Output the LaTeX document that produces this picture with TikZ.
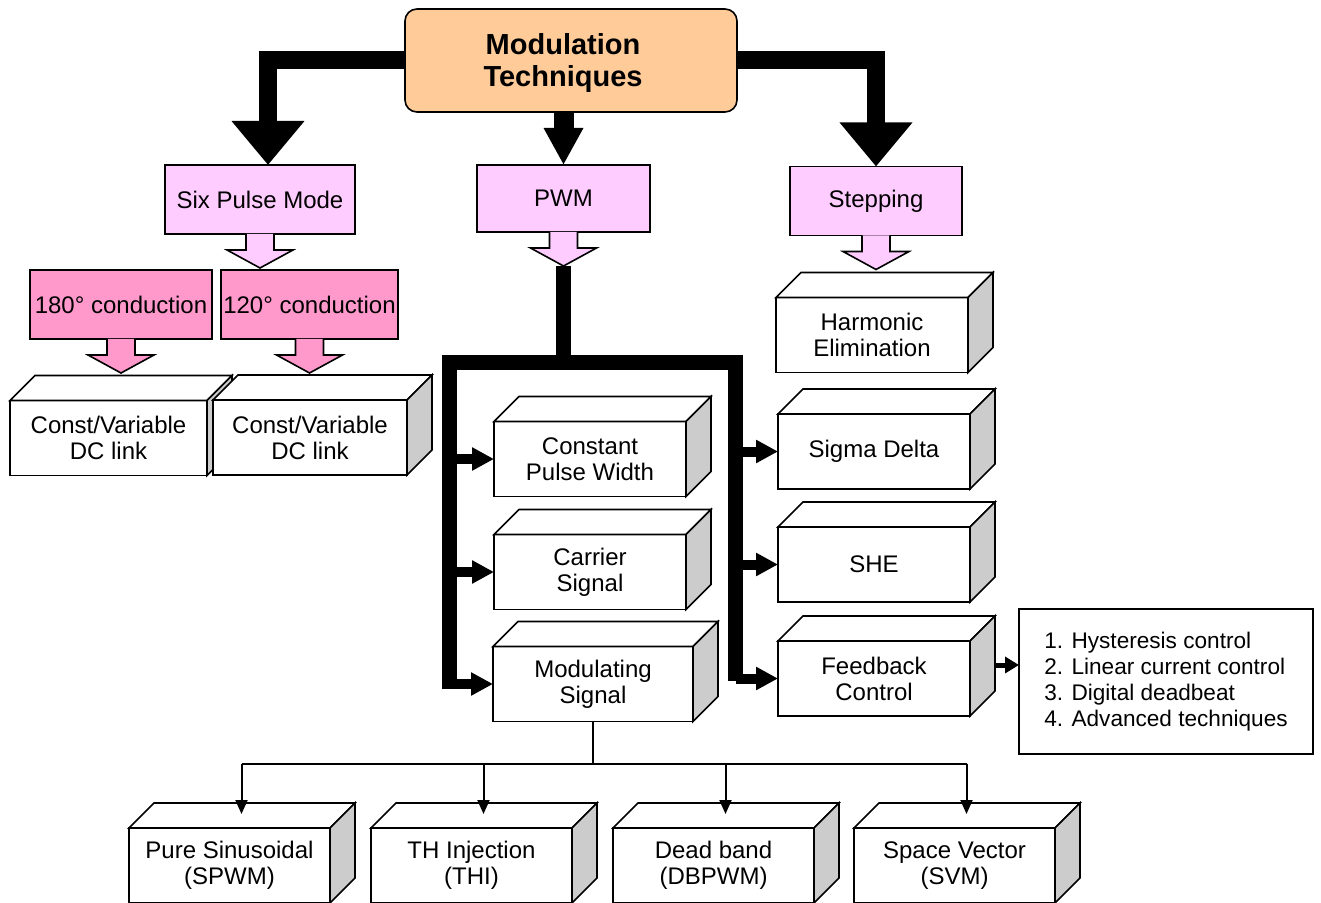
\documentclass[tikz,border=0pt]{standalone}
\usepackage{fontspec}
\setmainfont{Liberation Sans}
\usetikzlibrary{arrows.meta,calc}

\definecolor{peach}{HTML}{FFCC99}
\definecolor{lilac}{HTML}{FFCCFF}
\definecolor{rosy}{HTML}{FF99CC}
\definecolor{sidegrey}{HTML}{CCCCCC}

\tikzset{
  boxline/.style={draw=black, line width=0.8pt, outer sep=0pt},
  flatbox/.style={boxline, minimum height=34.5pt, inner sep=1pt, font=\fontsize{12}{13}\selectfont},
  cubefront/.style={boxline, fill=white, minimum height=37.5pt, inner sep=1pt, align=center, font=\fontsize{12}{13}\selectfont},
  bigarrow/.style={line width=9pt, -{Triangle[width=35pt,length=22pt]}},
  midarrow/.style={line width=10pt, -{Triangle[width=18.5pt,length=18.5pt]}},
  busline/.style={line width=7.5pt},
  branch/.style={line width=5pt, -{Triangle[width=11pt,length=11pt]}},
  treeline/.style={line width=1pt},
  treearrow/.style={treeline, -{Triangle[width=6pt,length=7pt]}},
  hollowarrow/.pic={\filldraw[boxline, pic actions] (-14,0) -- (-14,16) -- (-33,16) -- (0,34) -- (33,16) -- (14,16) -- (14,0);}
}

% front face, top face, grey side face
\newcommand{\cubenode}[4]{%
  \node[cubefront, minimum width=#3*0.5pt] (#1) at (#2) {#4};
  \filldraw[boxline, fill=white] (#1.north west) -- ++(25,-25) -- ($(#1.north east)+(25,-25)$) -- (#1.north east) -- cycle;
  \filldraw[boxline, fill=sidegrey] (#1.north east) -- ++(25,-25) -- ++(0,75) -- (#1.south east) -- cycle;
  \coordinate (#1-top) at ($(#1.north)+(12,-14)$);
}

\begin{document}
\begin{tikzpicture}[x=0.5pt,y=-0.5pt]
  \useasboundingbox (0,0) rectangle (1321,903);

  \node[boxline, fill=peach, rounded corners=6pt, minimum width=166pt, minimum height=51.5pt] (title) at (571,60.5) {};
  \node[align=center, font=\bfseries\fontsize{14.5}{16}\selectfont] (titletext) at (563,63) {Modulation\\Techniques};

  % first level
  \node[flatbox, fill=lilac, minimum width=95pt] (six) at (260,199.5) {Six Pulse Mode};
  \node[flatbox, fill=lilac, minimum width=86.5pt, minimum height=33.5pt] (pwm) at (563.5,198.5) {PWM};
  \node[flatbox, fill=lilac, minimum width=86pt] (step) at (876,201) {Stepping};

  \draw[bigarrow] (title.west) -| ([xshift=4pt]six.north);
  \draw[bigarrow] (title.east) -| (step.north);
  \draw[midarrow] (title.south -| pwm.north) -- (pwm.north);

  % six pulse mode
  \node[flatbox, fill=rosy, minimum width=91pt] (c180) at (121,304.5) {180° conduction};
  \node[flatbox, fill=rosy, minimum width=88.5pt] (c120) at (309.5,304.5) {120° conduction};
  \pic[fill=lilac] at (six.south) {hollowarrow};
  \pic[fill=rosy] at (c180.south) {hollowarrow};
  \pic[fill=rosy] at (c120.south) {hollowarrow};
  \cubenode{dc1}{108.5,438}{197}{Const/Variable\\DC link}
  \cubenode{dc2}{310,437.5}{194}{Const/Variable\\DC link}

  % stepping
  \pic[fill=lilac] at (step.south) {hollowarrow};
  \cubenode{harm}{872,335}{192}{Harmonic\\Elimination}

  % pwm
  \pic[fill=lilac] at (pwm.south) {hollowarrow};
  \coordinate (pwmtip) at ([yshift=-17pt]pwm.south);
  \cubenode{cpw}{590,459}{192}{Constant\\Pulse Width}
  \cubenode{carr}{590,572}{192}{Carrier\\Signal}
  \cubenode{modu}{593,684}{200}{Modulating\\Signal}
  \foreach \n/\y/\t in {sigma/451.5/{Sigma Delta},she/564.5/{SHE},feed/678.5/{Feedback\\Control}}{
    \cubenode{\n}{874,\y}{192}{\t}
  }

  \coordinate (busL) at (449.5,362.5);
  \coordinate (busR) at (735.5,362.5);
  \foreach \b in {cpw,carr,modu} \draw[branch] (\b.west -| busL) -- (\b.west);
  \foreach \b in {sigma,she,feed} \draw[branch] (\b.west -| busR) -- (\b.west);
  \draw[busline] (pwmtip) -- (pwmtip |- busL);
  \draw[busline] ([yshift=-2.5pt]modu.west -| busL) -- (busL) -- (busR) -- ([yshift=-1pt]feed.west -| busR);

  % feedback methods
  \node[boxline, fill=white, minimum width=147pt, minimum height=72.5pt, align=left,
        font=\fontsize{11.3}{13}\selectfont] (list) at (1166,681.5)
        {1. Hysteresis control\\2. Linear current control\\3. Digital deadbeat\\4. Advanced techniques};
  \coordinate (fbout) at (996,665);
  \draw[line width=2.5pt, -{Triangle[width=8pt,length=7pt]}] (fbout) -- (fbout -| list.west);

  % modulating signal types
  \foreach \n/\x/\t in {spwm/229.5/{Pure Sinusoidal\\(SPWM)},thi/471.5/{TH Injection\\(THI)},
                        dbpwm/713.5/{Dead band\\(DBPWM)},svm/954.5/{Space Vector\\(SVM)}}{
    \cubenode{\n}{\x,865.5}{201}{\t}
  }
  \draw[treeline] (modu.south) -- ++(0,42) coordinate (split);
  \draw[treeline] (split -| spwm-top) -- (split -| svm-top);
  \foreach \b in {spwm,thi,dbpwm,svm} \draw[treearrow] (split -| \b-top) -- (\b-top);
\end{tikzpicture}
\end{document}
